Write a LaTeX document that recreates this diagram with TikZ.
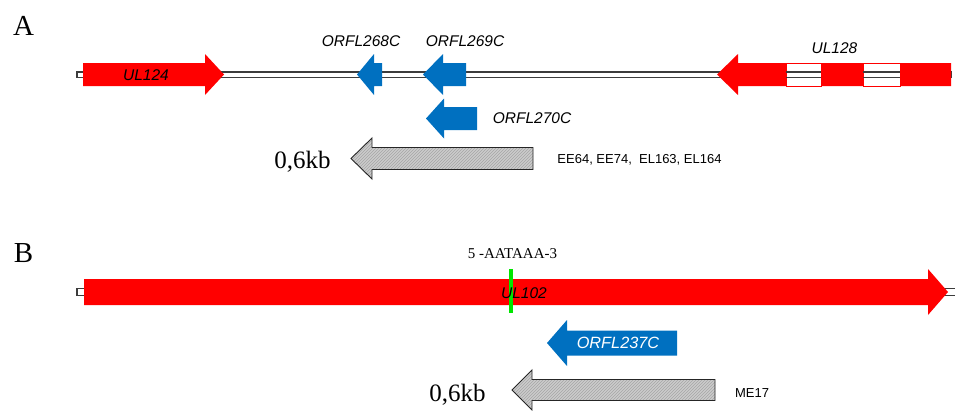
\documentclass[tikz,border=0pt]{standalone}
\usepackage{fontspec}
\setmainfont{Liberation Serif}
\setsansfont{Liberation Sans}
\usepackage{tikz}
\usetikzlibrary{calc,patterns}
\definecolor{genered}{RGB}{255,0,0}
\definecolor{geneblue}{RGB}{0,112,192}
\definecolor{linegray}{RGB}{60,60,60}
\definecolor{motifgreen}{RGB}{0,230,0}

\begin{document}
\begin{tikzpicture}[x=1pt,y=-1pt]
\tikzset{
	red gene/.style = {fill = genered},
	blue gene/.style = {fill = geneblue},
	probe/.style = {preaction = {fill = black!20}, pattern = north east lines, pattern color = black!35, draw = black!85, line width = 0.9pt},
	genome/.style = {draw = linegray, fill = white, line width = 1.2pt},
	gene label/.style = {font = \sffamily\itshape\fontsize{15.5}{17}\selectfont, inner sep = 0},
	clone label/.style = {font = \sffamily\fontsize{13}{15}\selectfont, inner sep = 0, anchor = base},
	size label/.style = {font = \fontsize{25}{28}\selectfont, inner sep = 0, anchor = base},
	panel label/.style = {font = \fontsize{29}{32}\selectfont, inner sep = 0, anchor = base},
	motif label/.style = {font = \fontsize{15}{17}\selectfont, inner sep = 0, anchor = base},
}
\useasboundingbox (0,0) rectangle (955,410);

% genome backbones
\draw[genome] (77,72) rectangle (951,77.5);
\draw[genome] (77,288.5) rectangle (962,295.5);

% genes: tail/head base/tip/centre/body half/head half
\foreach \tl/\bs/\tp/\yc/\bh/\hh in {83/205/224/74.5/11.5/20.5, 951/738/717/74.5/11.5/20.5, 84/928/948/292/13/23}
	\fill[red gene] (\tl,\yc-\bh) -- (\bs,\yc-\bh) -- (\bs,\yc-\hh) -- (\tp,\yc)
		-- (\bs,\yc+\hh) -- (\bs,\yc+\bh) -- (\tl,\yc+\bh) -- cycle;
\foreach \tl/\bs/\tp/\yc/\bh/\hh in {382/374/357/74.5/11.5/20.5, 466/443/423/74.5/11.5/20.5, 477/444/426/118.5/11.5/20, 677/567/547/343/12.5/23}
	\fill[blue gene] (\tl,\yc-\bh) -- (\bs,\yc-\bh) -- (\bs,\yc-\hh) -- (\tp,\yc)
		-- (\bs,\yc+\hh) -- (\bs,\yc+\bh) -- (\tl,\yc+\bh) -- cycle;
\foreach \tl/\bs/\tp/\yc/\bh/\hh in {533/372/351/158.5/11/20.5, 715/532/512/390/10.5/20}
	\draw[probe] (\tl,\yc-\bh) -- (\bs,\yc-\bh) -- (\bs,\yc-\hh) -- (\tp,\yc)
		-- (\bs,\yc+\hh) -- (\bs,\yc+\bh) -- (\tl,\yc+\bh) -- cycle;

% introns of UL128
\foreach \a/\b in {786/821, 863/900}{
	\filldraw[draw = genered, fill = white, line width = 0.6pt] (\a,63) rectangle (\b,86);
	\draw[linegray, line width = 1.2pt] (\a,72) -- (\b,72) (\a,77.5) -- (\b,77.5);
}

% polyadenylation signal
\fill[motifgreen] (509,269) rectangle (513,313);

\node[panel label] (panela) at (23.5,35) {A};
\node[panel label] (panelb) at (23.5,262) {B};

\node[gene label] (ul124) at (146,75.5) {UL124};
\node[gene label] (orfl268c) at (361,41) {ORFL268C};
\node[gene label] (orfl269c) at (465,41) {ORFL269C};
\node[gene label] (orfl270c) at (532,118) {ORFL270C};
\node[gene label] (ul128) at (834.5,48.5) {UL128};
\node[gene label] (ul102) at (524,293.5) {UL102};
\node[gene label, text = white, font = \sffamily\itshape\fontsize{16.3}{18}\selectfont] (orfl237c) at (618,343) {ORFL237C};

\node[size label] (sizea) at (302.5,168) {0,6kb};
\node[size label] (sizeb) at (457.5,401.5) {0,6kb};
\node[clone label] (clonesa) at (639.5,163.3) {EE64, EE74,\ \ EL163, EL164};
\node[clone label] (clonesb) at (752,397.3) {ME17};
\node[motif label] (motif) at (512.5,258.3) {5 -AATAAA-3};

\end{tikzpicture}
\end{document}
